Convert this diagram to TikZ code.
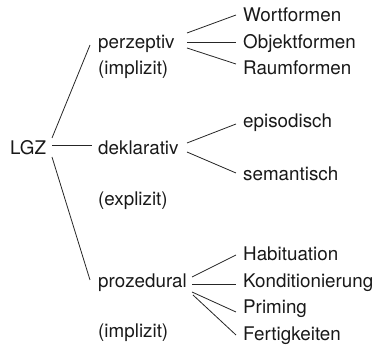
\documentclass[tikz,border=0pt]{standalone}
\usepackage{fontspec}
\setmainfont{TeX Gyre Heros}
\begin{document}
\begin{tikzpicture}[x=1pt,y=-1pt,
  lbl/.style={anchor=base west,inner sep=0pt,font=\fontsize{18.8}{22}\selectfont,text=black!90},
  conn/.style={line width=0.8pt,black!85}]
\useasboundingbox (0,0) rectangle (376,345);
% nodes
\node[lbl] (lgz) at (10,154.3) {LGZ};
\node[lbl] (perz) at (98,48.5) {perzeptiv};
\node[lbl] (impl1) at (98,75) {(implizit)};
\node[lbl] (dekl) at (98,154.3) {deklarativ};
\node[lbl] (expl) at (98,205.5) {(explizit)};
\node[lbl] (proz) at (98,287.7) {prozedural};
\node[lbl] (impl2) at (98,338) {(implizit)};
\node[lbl] (wort) at (243,21.7) {Wortformen};
\node[lbl] (obj) at (243,48.3) {Objektformen};
\node[lbl] (raum) at (243,75) {Raumformen};
\node[lbl] (epi) at (243,127.3) {episodisch};
\node[lbl] (sem) at (243,181) {semantisch};
\node[lbl] (hab) at (243,261) {Habituation};
\node[lbl] (kond) at (243,287.7) {Konditionierung};
\node[lbl] (prim) at (243,314) {Priming};
\node[lbl] (fert) at (243,340.7) {Fertigkeiten};
% connector end points
\coordinate (lgzU) at (52,138);
\coordinate (lgzM) at (52,145);
\coordinate (lgzD) at (52,157);
\coordinate (perzIn) at (90,45);
\coordinate (deklIn) at (92,145);
\coordinate (prozIn) at (90,280);
\coordinate (perzA) at (187,33);
\coordinate (perzB) at (187,42);
\coordinate (perzC) at (187,48);
\coordinate (wortIn) at (236,15);
\coordinate (objIn) at (236,42);
\coordinate (raumIn) at (236,64);
\coordinate (deklA) at (187,143);
\coordinate (deklB) at (187,152);
\coordinate (epiIn) at (236,124);
\coordinate (semIn) at (236,173);
\coordinate (prozA) at (192,277);
\coordinate (prozB) at (192,284);
\coordinate (prozC) at (192,292);
\coordinate (prozD) at (193,295);
\coordinate (habIn) at (236,255);
\coordinate (kondIn) at (236,284);
\coordinate (primIn) at (236,312);
\coordinate (fertIn) at (236,335);
% connectors
\draw[conn] (lgzU) -- (perzIn);
\draw[conn] (lgzM) -- (deklIn);
\draw[conn] (lgzD) -- (prozIn);
\draw[conn] (perzA) -- (wortIn);
\draw[conn] (perzB) -- (objIn);
\draw[conn] (perzC) -- (raumIn);
\draw[conn] (deklA) -- (epiIn);
\draw[conn] (deklB) -- (semIn);
\draw[conn] (prozA) -- (habIn);
\draw[conn] (prozB) -- (kondIn);
\draw[conn] (prozC) -- (primIn);
\draw[conn] (prozD) -- (fertIn);
\end{tikzpicture}
\end{document}
